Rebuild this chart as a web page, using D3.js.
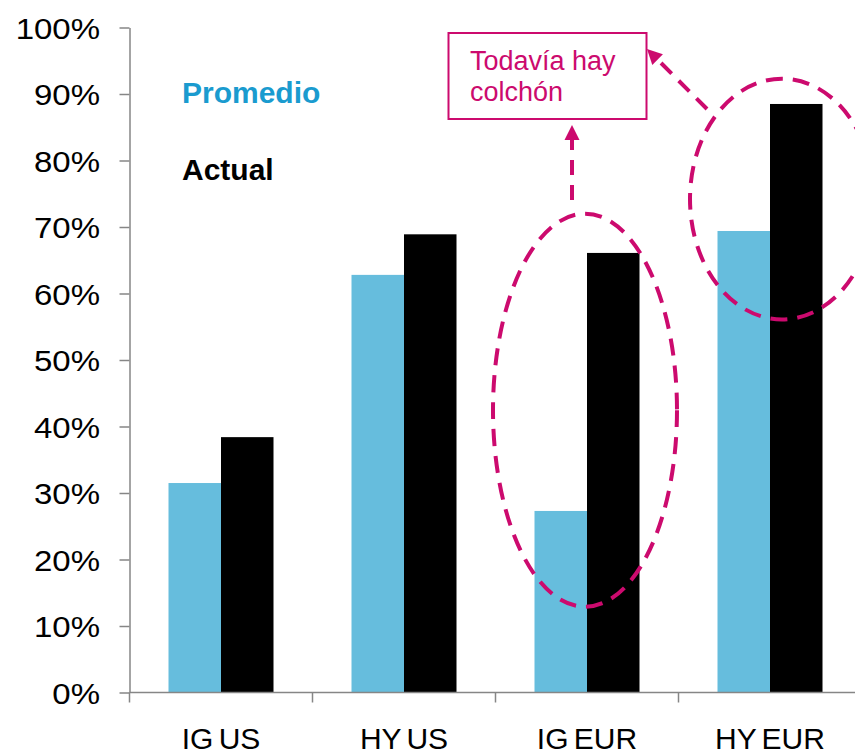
<!DOCTYPE html>
<html lang="es">
<head>
  <meta charset="UTF-8">
  <title>Promedio vs Actual</title>
  <style>
    body { margin: 0; background: #fff; }
    svg { display: block; font-family: "Liberation Sans", Arial, sans-serif; }
  </style>
</head>
<body>
  <svg class="chart"></svg>
  <script src="https://cdn.jsdelivr.net/npm/d3@7"></script>
  <script>
    var w = 855;
    var h = 756;

    var categories = ["IG US", "HY US", "IG EUR", "HY EUR"];
    var series = ["Promedio", "Actual"];
    var promedio = [31.5, 62.8, 27.3, 69.4];
    var actual = [38.4, 68.9, 66.1, 88.5];
    var yTicks = [0, 10, 20, 30, 40, 50, 60, 70, 80, 90, 100];

    var colors = { Promedio: "#66BDDD", Actual: "#000000" };
    var magenta = "#CC0A6E";
    var axisGray = "#868686";

    var svg = d3.select(".chart").attr("width", w).attr("height", h);

    var y = d3.scaleLinear().domain([0, 100]).range([692.5, 27.5]);
    var x = d3.scaleBand().domain(categories).range([129.5, 861.5]);
    var xs = d3.scaleBand().domain(series).range([39, 144]);

    // bars
    var groups = svg.selectAll("g.cat")
      .data(categories)
      .enter()
      .append("g")
      .attr("class", "cat")
      .attr("transform", d => "translate(" + x(d) + ",0)");

    groups.selectAll("rect")
      .data((d, i) => [
        { s: "Promedio", v: promedio[i] },
        { s: "Actual", v: actual[i] }
      ])
      .enter()
      .append("rect")
      .attr("x", d => xs(d.s))
      .attr("width", xs.bandwidth())
      .attr("y", d => y(d.v))
      .attr("height", d => y(0) - y(d.v))
      .attr("fill", d => colors[d.s]);

    // y axis (labels a bit wider than the font, like the original)
    var stretch = 1.1;
    var yAxis = svg.append("g")
      .attr("transform", "translate(129.5,0)")
      .call(d3.axisLeft(y).tickValues(yTicks).tickFormat(d => d + "%")
        .tickSize(10).tickSizeOuter(0));
    yAxis.select(".domain").attr("stroke", axisGray).attr("stroke-width", 1.5);
    yAxis.selectAll(".tick line").attr("stroke", axisGray).attr("stroke-width", 1.5);
    yAxis.selectAll(".tick text")
      .attr("font-size", 30)
      .attr("fill", "#000")
      .attr("x", -29.5 / stretch)
      .attr("dy", "0.36em")
      .attr("transform", "scale(" + stretch + ",1)");

    // x axis: line, boundary ticks, labels
    svg.append("line")
      .attr("x1", x.range()[0]).attr("x2", x.range()[1])
      .attr("y1", y(0)).attr("y2", y(0))
      .attr("stroke", axisGray).attr("stroke-width", 1.5);

    svg.selectAll("line.xtick")
      .data(categories)
      .enter()
      .append("line")
      .attr("class", "xtick")
      .attr("x1", d => x(d)).attr("x2", d => x(d))
      .attr("y1", y(0)).attr("y2", y(0) + 10)
      .attr("stroke", axisGray).attr("stroke-width", 1.5);

    svg.selectAll("text.xlabel")
      .data(categories)
      .enter()
      .append("text")
      .attr("class", "xlabel")
      .attr("x", d => x(d) + x.bandwidth() / 2)
      .attr("y", 749)
      .attr("text-anchor", "middle")
      .attr("font-size", 30)
      .attr("word-spacing", -3)
      .attr("fill", "#000")
      .text(d => d);

    // legend (text only)
    svg.append("text")
      .attr("x", 182).attr("y", 103)
      .attr("font-size", 30).attr("font-weight", "bold")
      .attr("fill", "#1A9BCF")
      .text("Promedio");
    svg.append("text")
      .attr("x", 182).attr("y", 180)
      .attr("font-size", 30).attr("font-weight", "bold")
      .attr("fill", "#000")
      .text("Actual");

    // annotation: dashed ellipses
    var dash = "17,10";
    var c3 = x("IG EUR") + x.bandwidth() / 2;
    var c4 = x("HY EUR") + x.bandwidth() / 2 + 12;
    var ellipses = [
      { cx: c3 - 2, top: y(72), bottom: y(12.9), rx: 92 },
      { cx: c4, top: y(92.3), bottom: y(56.1), rx: 92 }
    ];
    svg.selectAll("ellipse")
      .data(ellipses)
      .enter()
      .append("ellipse")
      .attr("cx", d => d.cx)
      .attr("cy", d => (d.top + d.bottom) / 2)
      .attr("rx", d => d.rx)
      .attr("ry", d => (d.bottom - d.top) / 2)
      .attr("fill", "none")
      .attr("stroke", magenta)
      .attr("stroke-width", 4)
      .attr("stroke-dasharray", dash);

    // annotation box
    svg.append("rect")
      .attr("x", 448.5).attr("y", 33)
      .attr("width", 198).attr("height", 86)
      .attr("fill", "#fff")
      .attr("stroke", magenta).attr("stroke-width", 2);
    svg.append("text")
      .attr("x", 470).attr("y", 70)
      .attr("font-size", 27).attr("fill", magenta)
      .text("Todavía hay");
    svg.append("text")
      .attr("x", 470).attr("y", 101)
      .attr("font-size", 27).attr("fill", magenta)
      .text("colchón");

    // dashed arrows
    function arrow(x1, y1, x2, y2) {
      var dx = x2 - x1, dy = y2 - y1;
      var len = Math.sqrt(dx * dx + dy * dy);
      var ux = dx / len, uy = dy / len;
      var hl = 15, hw = 7.5;
      var bx = x2 - ux * hl, by = y2 - uy * hl;
      svg.append("line")
        .attr("x1", x1).attr("y1", y1)
        .attr("x2", bx).attr("y2", by)
        .attr("stroke", magenta).attr("stroke-width", 4)
        .attr("stroke-dasharray", "15,10");
      svg.append("path")
        .attr("d", d3.line()([
          [x2, y2],
          [bx - uy * hw, by + ux * hw],
          [bx + uy * hw, by - ux * hw]
        ]) + "Z")
        .attr("fill", magenta);
    }
    arrow(c3 - 15, 200, c3 - 15, 125);
    arrow(707, 109, 647, 49);
  </script>
</body>
</html>
